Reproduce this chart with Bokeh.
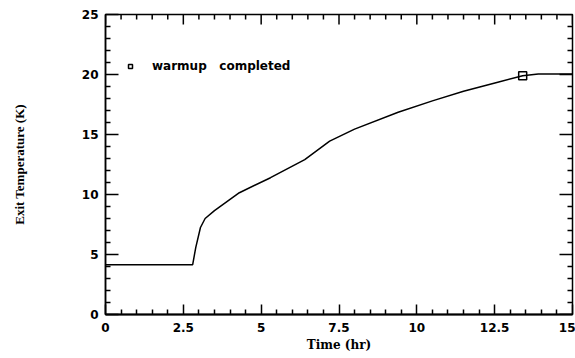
from bokeh.plotting import figure
from bokeh.models import Range1d, FixedTicker, Legend, LegendItem
from bokeh.embed import file_html
from bokeh.resources import INLINE

# Data
time_hr = [0, 2.8, 2.9, 3.05, 3.2, 3.5, 4.3, 5.3, 6.4, 7.2, 8.0, 9.4, 10.5,
           11.5, 12.6, 13.4, 13.9, 15]
exit_temp_k = [4.15, 4.15, 5.6, 7.25, 8.0, 8.65, 10.15, 11.4, 12.9, 14.45,
               15.45, 16.85, 17.8, 18.6, 19.35, 19.9, 20.05, 20.05]
warmup_time = [13.4]
warmup_temp = [19.9]

x_ticks = [0, 2.5, 5, 7.5, 10, 12.5, 15]
x_tick_labels = ["0", "2.5", "5", "7.5", "10", "12.5", "15"]
x_minor = [i * 0.5 for i in range(31) if (i * 0.5) not in x_ticks]
y_ticks = [0, 5, 10, 15, 20, 25]
y_minor = [v for v in range(26) if v not in y_ticks]

X0, X1, Y0, Y1 = 0, 15, 0, 25
W, H = 575, 358
BL, BR, BT, BB = 105, 3, 14, 44
px_x = (X1 - X0) / (W - BL - BR)   # data units per screen pixel
px_y = (Y1 - Y0) / (H - BT - BB)

p = figure(width=W, height=H, output_backend="svg", toolbar_location=None,
           x_range=Range1d(X0, X1), y_range=Range1d(Y0, Y1),
           min_border_left=BL, min_border_right=BR, min_border_top=BT,
           min_border_bottom=BB)
p.outline_line_color = "black"
p.outline_line_width = 1.5
p.xgrid.visible = False
p.ygrid.visible = False
p.background_fill_color = "white"
p.border_fill_color = "white"

line = p.line(time_hr, exit_temp_k, line_color="black", line_width=1.5)
mk = p.scatter(warmup_time, warmup_temp, marker="square", size=8,
               fill_color=None, line_color="black", line_width=1.5)

# inward ticks on the top and right edges, as short polylines
txs, tys = [], []
def vticks(vals, edge, length_px, sign):
    for v in vals:
        txs.append([v, v])
        tys.append([edge, edge + sign * length_px * px_y])

def hticks(vals, edge, length_px, sign):
    for v in vals:
        txs.append([edge, edge + sign * length_px * px_x])
        tys.append([v, v])

vticks(x_ticks, Y1, 10, -1)
vticks(x_minor, Y1, 5, -1)
hticks(y_ticks, X1, 13, -1)
hticks(y_minor, X1, 5, -1)
p.multi_line(xs=txs, ys=tys, line_color="black", line_width=1.5)

def style_axis(ax, major, minor, tick_len):
    ax.ticker = FixedTicker(ticks=major, minor_ticks=minor)
    ax.major_tick_in = tick_len
    ax.major_tick_out = 0
    ax.minor_tick_in = 5
    ax.minor_tick_out = 0
    ax.major_tick_line_width = 1.5
    ax.minor_tick_line_width = 1.5
    ax.major_tick_line_color = "black"
    ax.minor_tick_line_color = "black"
    ax.axis_line_width = 2
    ax.axis_line_color = "black"
    ax.major_label_text_font = "DejaVu Sans"
    ax.major_label_text_font_style = "bold"
    ax.major_label_text_font_size = "12px"
    ax.major_label_text_color = "black"
    ax.axis_label_text_color = "black"

xa = p.xaxis[0]
style_axis(xa, x_ticks, x_minor, 10)
xa.major_label_overrides = {t: s for t, s in zip(x_ticks, x_tick_labels)}
xa.major_label_standoff = 8
xa.axis_label = "Time (hr)"
xa.axis_label_text_font = "DejaVu Serif"
xa.axis_label_text_font_style = "bold"
xa.axis_label_text_font_size = "12px"
xa.axis_label_standoff = 3

ya = p.yaxis[0]
style_axis(ya, y_ticks, y_minor, 13)
ya.axis_line_width = 1.5
ya.major_label_standoff = 7
ya.axis_label = "Exit Temperature (K)"
ya.axis_label_text_font = "Liberation Serif"
ya.axis_label_text_font_style = "bold"
ya.axis_label_text_font_size = "13px"
ya.axis_label_standoff = 52

legend = Legend(items=[LegendItem(label="warmup\u00a0\u00a0\u00a0completed", renderers=[mk])],
                location=(20, 241))
legend.padding = 0
legend.margin = 0
legend.spacing = 0
legend.border_line_color = None
legend.background_fill_alpha = 0
legend.glyph_width = 10
legend.glyph_height = 14
legend.label_height = 14
legend.label_standoff = 17
legend.label_text_font = "DejaVu Sans"
legend.label_text_font_style = "bold"
legend.label_text_font_size = "12px"
legend.label_text_color = "black"
p.add_layout(legend, "center")

open("out.html", "w").write(file_html(p, INLINE))
